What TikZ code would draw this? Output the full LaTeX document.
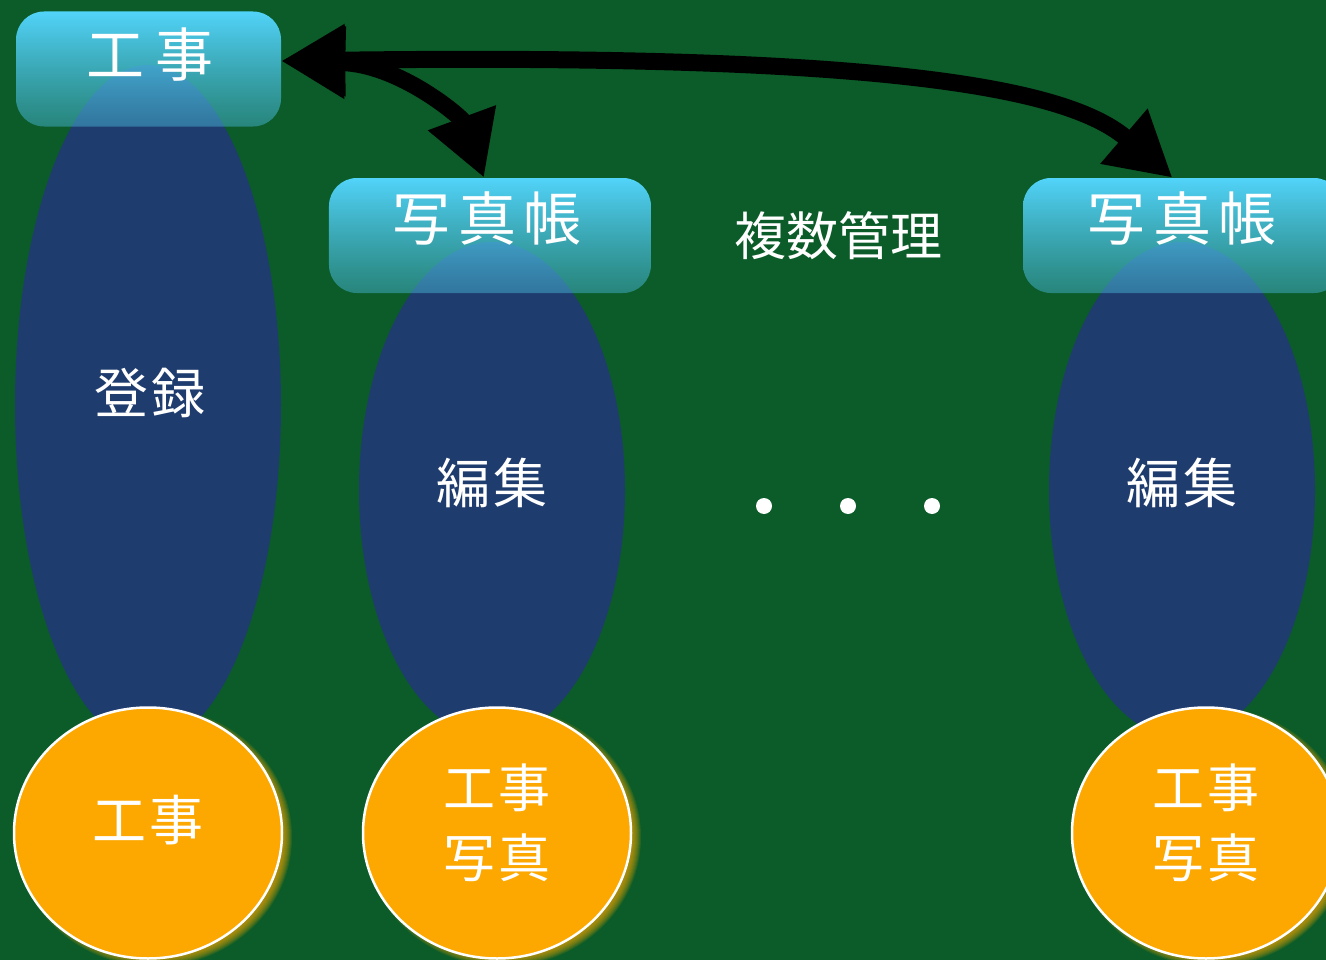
\documentclass[tikz,border=0pt]{standalone}
\usepackage{fontspec}
\setmainfont{Noto Sans CJK JP}
\usetikzlibrary{arrows.meta,fadings,shapes.geometric}
\definecolor{bg}{HTML}{0B5C28}
\definecolor{ellblue}{HTML}{1F3C6E}
\definecolor{cyantop}{HTML}{52D4FA}
\definecolor{cyanbot}{HTML}{45B0CF}
\definecolor{orng}{HTML}{FCA800}
\tikzfading[name=boxfade, top color=transparent!0, bottom color=transparent!50]
\tikzset{
  ell/.style={ellipse, fill=ellblue, inner sep=0pt, minimum width=266pt},
  disc/.style={ellipse, fill=orng, draw=white, line width=2.5pt, inner sep=0pt,
    minimum width=268pt, minimum height=251pt},
  tbox/.style={rectangle, rounded corners=28pt, top color=cyantop, bottom color=cyanbot,
    path fading=boxfade, inner sep=0pt, minimum height=115pt},
  bigtxt/.style={text=white, inner sep=0pt, font=\fontsize{58pt}{62pt}\selectfont},
  midtxt/.style={text=white, inner sep=0pt, font=\fontsize{54pt}{58pt}\selectfont},
  disctxt/.style={text=white, inner sep=0pt, font=\fontsize{52pt}{56pt}\selectfont},
  conn/.style={line width=17pt, black,
    {Triangle[length=64pt,width=68pt]}-{Triangle[length=64pt,width=68pt]}},
  dotmark/.style={circle, fill=white, inner sep=0pt, minimum size=16pt},
  glow/.style={fill=orng, opacity=.11}
}
\newcommand{\discglow}[1]{%
  \foreach \g in {0,2,...,16}{%
    \fill[glow] ([xshift=6pt,yshift=-4pt]#1) ellipse [x radius={134pt+\g pt/2-4pt}, y radius={125.5pt+\g pt/2-4pt}];
  }%
}
\begin{document}
\begin{tikzpicture}[x=1pt,y=-1pt]
\fill[bg] (0,0) rectangle (1326,960);
\useasboundingbox (0,0) rectangle (1326,960);
\clip (0,0) rectangle (1326,960);
% ellipses
\node[ell, minimum height=680pt] (e1) at (148,405) {};
\node[ell, minimum height=496pt] (e2) at (492,490) {};
\node[ell, minimum height=496pt] (e3) at (1182,490) {};
% discs
\coordinate (p1) at (148,833);
\coordinate (p2) at (497,833);
\coordinate (p3) at (1206,833);
\discglow{p1}
\discglow{p2}
\discglow{p3}
\node[disc] (c1) at (p1) {};
\node[disc] (c2) at (p2) {};
\node[disc] (c3) at (p3) {};
% boxes
\node[tbox, minimum width=265pt] (b1) at (148.5,69) {};
\node[tbox, minimum width=322pt] (b2) at (490,235.5) {};
\node[tbox, minimum width=319pt] (b3) at (1182.5,235.5) {};
% connectors
\draw[conn] ([yshift=8pt]b1.east) .. controls (900,53) and (1070,90) .. ([xshift=-10pt]b3.north);
\draw[conn] ([yshift=8pt]b1.east) .. controls (400,64) and (462,118) .. ([xshift=-6pt]b2.north);
% box texts
\node[bigtxt] (t1) at (150,55) {工\hspace{.2em}事};
\node[bigtxt] (t2) at (487,218) {写\hspace{.13em}真\hspace{.13em}帳};
\node[bigtxt] (t3) at (1182,218) {写\hspace{.13em}真\hspace{.13em}帳};
% ellipse texts
\node[midtxt] (l1) at (150,393) {登\hspace{.06em}録};
\node[midtxt] (l2) at (492,483) {編\hspace{.06em}集};
\node[midtxt] (l3) at (1182,483) {編\hspace{.06em}集};
% disc texts
\node[midtxt] (k1) at (148,820) {工\hspace{.06em}事};
\node[disctxt] (k2a) at (497,788) {工\hspace{.06em}事};
\node[disctxt] (k2b) at (497,858) {写\hspace{.06em}真};
\node[disctxt] (k3a) at (1206,788) {工\hspace{.06em}事};
\node[disctxt] (k3b) at (1206,858) {写\hspace{.06em}真};
% middle
\node[text=white, inner sep=0pt, font=\fontsize{52pt}{56pt}\selectfont] (m) at (838,236) {複数管理};
\node[dotmark] (d1) at (764,506) {};
\node[dotmark] (d2) at (848,506) {};
\node[dotmark] (d3) at (932,506) {};
\end{tikzpicture}
\end{document}
